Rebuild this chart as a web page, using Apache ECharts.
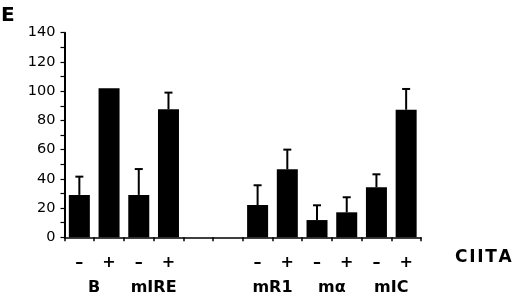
<!DOCTYPE html>
<html>
<head>
<meta charset="utf-8">
<script src="https://cdn.jsdelivr.net/npm/echarts@6/dist/echarts.min.js"></script>
<style>
    html, body { margin: 0; padding: 0; background: #fff; }
    #chart { width: 520px; height: 297px; }
</style>
</head>
<body>
<div id="chart"></div>
<script>
    // one slot per bar, two empty slots between the mIRE and mR1 groups
    const categories = ['B-', 'B+', 'mIRE-', 'mIRE+', 'gap1', 'gap2', 'mR1-', 'mR1+', 'ma-', 'ma+', 'mIC-', 'mIC+'];
    const signs = ['–', '+', '–', '+', '', '', '–', '+', '–', '+', '–', '+'];
    const groups = ['B', 'mIRE', '', 'mR1', 'mα', 'mIC'];
    const values = [29, 102, 29, 87.6, null, null, 22.1, 46.5, 11.8, 17.1, 34.2, 87.3];
    const errors = [12.5, 0, 17.7, 11.4, null, null, 13.5, 13.5, 10.1, 10.3, 8.9, 14.2];
    const yTicks = [0, 20, 40, 60, 80, 100, 120, 140];

    let chart = echarts.init(document.getElementById('chart'));

    let errData = [];
    values.forEach((v, i) => {
        if (v !== null && errors[i] > 0) errData.push([i, v, v + errors[i]]);
    });

    let option = {
        animation: false,
        grid: { left: 64.5, right: 99, top: 32.7, bottom: 59.7 },
        xAxis: [
            {
                type: 'category',
                data: categories,
                position: 'bottom',
                axisLine: { lineStyle: { color: '#000', width: 1.5 } },
                axisTick: { show: true, interval: 0, length: 4, lineStyle: { color: '#000', width: 1.5 } },
                axisLabel: {
                    interval: 0, margin: 18, color: '#000',
                    fontFamily: 'DejaVu Sans', fontWeight: 'bold', fontSize: 16,
                    formatter: (val, idx) => signs[idx]
                }
            },
            {
                type: 'category',
                data: groups,
                position: 'bottom',
                axisLine: { show: false },
                axisTick: { show: false },
                axisLabel: {
                    interval: 0, margin: 43, color: '#000',
                    fontFamily: 'DejaVu Sans', fontWeight: 'bold', fontSize: 16
                }
            }
        ],
        yAxis: {
            type: 'value',
            min: yTicks[0],
            max: yTicks[yTicks.length - 1],
            interval: yTicks[1] - yTicks[0],
            splitLine: { show: false },
            axisLine: { show: true, lineStyle: { color: '#000', width: 2 } },
            axisTick: { show: true, length: 4, lineStyle: { color: '#000', width: 1.2 } },
            minorTick: { show: true, splitNumber: 2, length: 4, lineStyle: { color: '#000', width: 1.2 } },
            axisLabel: { margin: 9, color: '#000', fontFamily: 'DejaVu Sans', fontSize: 14.5 }
        },
        series: [
            {
                type: 'bar',
                data: values,
                barWidth: 21,
                itemStyle: { color: '#000' }
            },
            {
                type: 'custom',
                data: errData,
                z: 3,
                renderItem: function (params, api) {
                    let base = api.coord([api.value(0), api.value(1)]);
                    let top = api.coord([api.value(0), api.value(2)]);
                    let style = { stroke: '#000', lineWidth: 2 };
                    return {
                        type: 'group',
                        children: [
                            { type: 'line', shape: { x1: base[0], y1: base[1], x2: top[0], y2: top[1] }, style: style },
                            { type: 'line', shape: { x1: top[0] - 4, y1: top[1], x2: top[0] + 4, y2: top[1] }, style: style }
                        ]
                    };
                }
            }
        ],
        graphic: [
            {
                type: 'text', left: 1, top: 6,
                style: { text: 'E', fill: '#000', font: 'bold 20px "DejaVu Sans"' }
            },
            {
                type: 'text', x: 455, y: 258,
                style: {
                    text: 'C\u200aI\u200aI\u200aT\u200aA', fill: '#000',
                    font: 'bold 17px "DejaVu Sans"', verticalAlign: 'middle'
                }
            }
        ]
    };

    chart.setOption(option);
</script>
</body>
</html>
